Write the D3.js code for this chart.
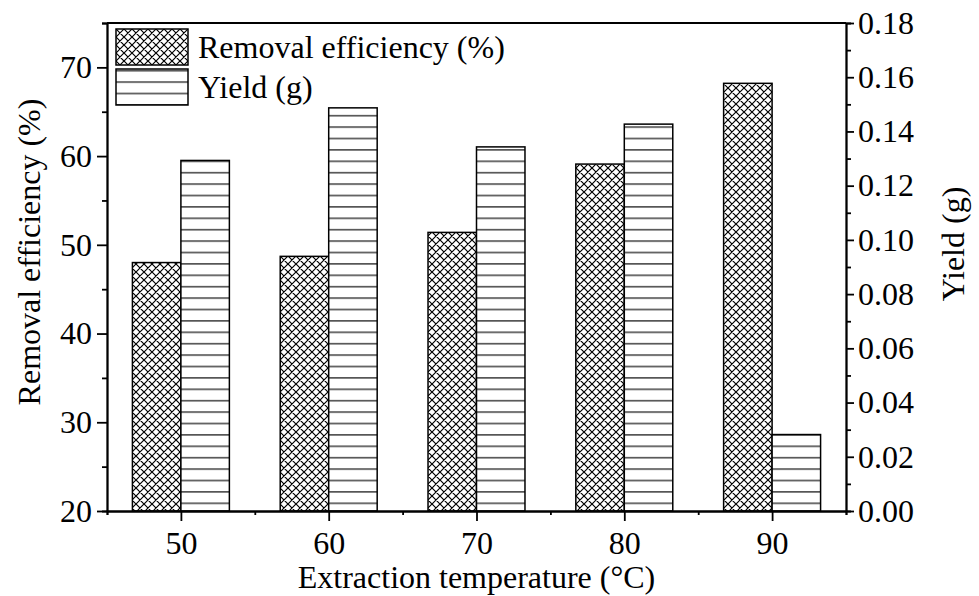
<!DOCTYPE html>
<html>
<head>
<meta charset="utf-8">
<script src="https://cdn.jsdelivr.net/npm/d3@7"></script>
<style>
  body{margin:0;background:#fff;}
  text{font-family:"Liberation Serif","Times New Roman",serif;fill:#000;}
</style>
</head>
<body>
<div id="chart"></div>
<script>
var temps = [50,60,70,80,90];
var removal = [48.0,48.7,51.4,59.1,68.2];
var yieldG = [0.1293,0.1487,0.1343,0.1427,0.0282];
var leftTicks = [20,30,40,50,60,70];
var rightTicks = [0,0.02,0.04,0.06,0.08,0.10,0.12,0.14,0.16,0.18];

var width=979;
var height=596;
var padL=107,padR=846,padT=23,padB=511;
var barW=3.28;

var svg = d3.select("#chart")
    .append("svg")
    .attr("width",width)
    .attr("height",height);

var xScale = d3.scaleLinear().domain([45,95]).range([padL,padR]);
var yLeft = d3.scaleLinear().domain([20,75]).range([padB,padT]);
var yRight = d3.scaleLinear().domain([0,0.18]).range([padB,padT]);

var defs = svg.append("defs");
var cross = defs.append("pattern")
    .attr("id","cross")
    .attr("patternUnits","userSpaceOnUse")
    .attr("width",8).attr("height",8);
cross.append("rect").attr("width",8).attr("height",8).attr("fill","#fff");
cross.append("path")
    .attr("d","M-1,1 L1,-1 M0,8 L8,0 M7,9 L9,7 M-1,7 L1,9 M0,0 L8,8 M7,-1 L9,1")
    .attr("stroke","#000").attr("stroke-width",1.2);

var hatch = defs.append("pattern")
    .attr("id","hlines")
    .attr("patternUnits","userSpaceOnUse")
    .attr("y",padB)
    .attr("width",20).attr("height",11.4);
hatch.append("rect").attr("width",20).attr("height",11.4).attr("fill","#fff");
hatch.append("line")
    .attr("x1",0).attr("x2",20).attr("y1",3.7).attr("y2",3.7)
    .attr("stroke","#222").attr("stroke-width",1.3);

// bars
svg.append("g").selectAll("rect")
    .data(temps)
    .enter()
    .append("rect")
    .attr("x",function(d){ return xScale(d-barW); })
    .attr("y",function(d,i){ return yLeft(removal[i]); })
    .attr("width",function(d){ return xScale(d)-xScale(d-barW); })
    .attr("height",function(d,i){ return padB-yLeft(removal[i]); })
    .attr("fill","url(#cross)")
    .attr("stroke","#000")
    .attr("stroke-width",1.5);

svg.append("g").selectAll("rect")
    .data(temps)
    .enter()
    .append("rect")
    .attr("x",function(d){ return xScale(d); })
    .attr("y",function(d,i){ return yRight(yieldG[i]); })
    .attr("width",function(d){ return xScale(d+barW)-xScale(d); })
    .attr("height",function(d,i){ return padB-yRight(yieldG[i]); })
    .attr("fill","url(#hlines)")
    .attr("stroke","#000")
    .attr("stroke-width",1.5);

// axes
var fs = 32;
function styleAxis(g){
  g.selectAll("path,line").attr("stroke","#000").attr("stroke-width",1.8);
  g.selectAll("text").attr("font-size",fs).attr("font-family","Liberation Serif").attr("fill","#000");
}

svg.append("g")
    .attr("transform","translate(0,"+padB+")")
    .call(d3.axisBottom(xScale).tickValues(d3.range(45,96,10)).tickSize(4).tickFormat(""))
    .call(styleAxis);
svg.append("g")
    .attr("transform","translate(0,"+padB+")")
    .call(d3.axisBottom(xScale).tickValues(temps).tickSize(10).tickPadding(10).tickSizeOuter(0))
    .call(styleAxis);

svg.append("g")
    .attr("transform","translate("+padL+",0)")
    .call(d3.axisLeft(yLeft).tickValues(d3.range(25,76,10)).tickSize(5).tickFormat(""))
    .call(styleAxis);
svg.append("g")
    .attr("transform","translate("+padL+",0)")
    .call(d3.axisLeft(yLeft).tickValues(leftTicks).tickSize(10).tickPadding(5).tickSizeOuter(0))
    .call(styleAxis);

svg.append("g")
    .attr("transform","translate("+padR+",0)")
    .call(d3.axisRight(yRight).tickValues(d3.range(0.01,0.18,0.02)).tickSize(5).tickFormat(""))
    .call(styleAxis);
svg.append("g")
    .attr("transform","translate("+padR+",0)")
    .call(d3.axisRight(yRight).tickValues(rightTicks).tickSize(8).tickPadding(4).tickSizeOuter(0).tickFormat(d3.format(".2f")))
    .call(styleAxis);

svg.append("line")
    .attr("x1",padL).attr("x2",padR).attr("y1",padT).attr("y2",padT)
    .attr("stroke","#000").attr("stroke-width",1.8);

// titles
svg.append("text")
    .attr("x",(padL+padR)/2).attr("y",588)
    .attr("text-anchor","middle")
    .attr("font-size",fs)
    .text("Extraction temperature (\u00B0C)");

svg.append("text")
    .attr("transform","translate(40,252) rotate(-90)")
    .attr("text-anchor","middle")
    .attr("font-size",fs)
    .text("Removal efficiency (%)");

svg.append("text")
    .attr("transform","translate(964,244) rotate(-90)")
    .attr("text-anchor","middle")
    .attr("font-size",fs)
    .text("Yield (g)");

// legend
var legendItems = [
  {label:"Removal efficiency (%)",fill:"url(#cross)"},
  {label:"Yield (g)",fill:"url(#hlines)"}
];
var legend = svg.append("g").selectAll("g")
    .data(legendItems)
    .enter()
    .append("g")
    .attr("transform",function(d,i){ return "translate(116,"+(29+i*40)+")"; });
legend.append("rect")
    .attr("width",72).attr("height",36)
    .attr("fill",function(d){ return d.fill; })
    .attr("stroke","#000").attr("stroke-width",1.5);
legend.append("text")
    .attr("x",82).attr("y",29)
    .attr("font-size",fs)
    .text(function(d){ return d.label; });
</script>
</body>
</html>
